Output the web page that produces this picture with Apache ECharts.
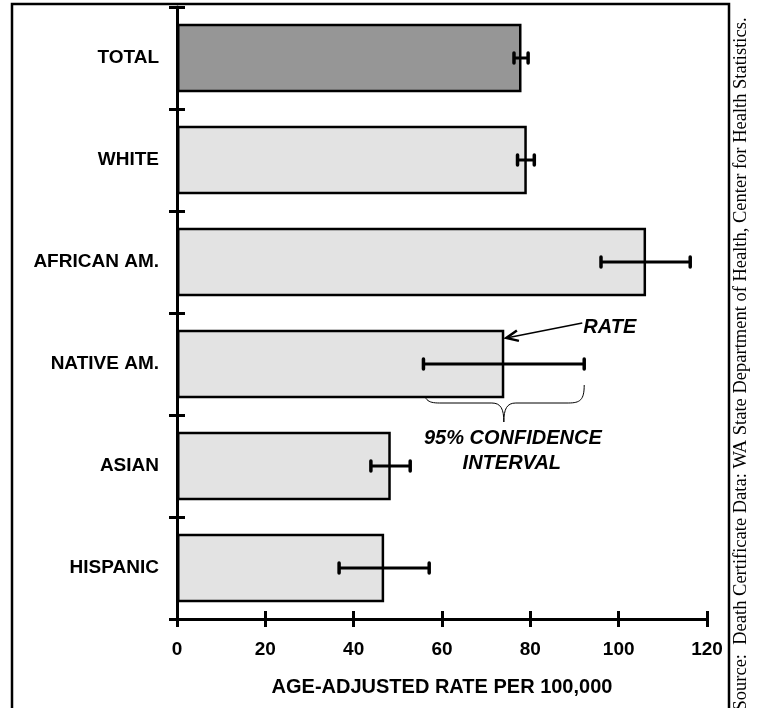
<!DOCTYPE html>
<html><head><meta charset="utf-8">
<script src="https://cdn.jsdelivr.net/npm/echarts@6/dist/echarts.min.js"></script>
<style>html,body{margin:0;padding:0;background:#fff}#c{width:757px;height:708px}</style>
</head><body><div id="c"></div>
<script>
const categories = ['TOTAL', 'WHITE', 'AFRICAN AM.', 'NATIVE AM.', 'ASIAN', 'HISPANIC'];
const rates = [78.0, 79.2, 106.2, 74.1, 48.4, 46.9];
const ciLower = [76.3, 77.1, 96.0, 55.8, 43.9, 36.7];
const ciUpper = [79.5, 80.9, 116.2, 92.2, 52.8, 57.1];
const xTicks = [0, 20, 40, 60, 80, 100, 120];
const xTitle = 'AGE-ADJUSTED RATE PER 100,000';
const sourceText = 'Source:  Death Certificate Data: WA State Department of Health, Center for Health Statistics.';
const annoRate = 'RATE';
const annoCI = ['95% CONFIDENCE', 'INTERVAL'];
const annoIndex = 3;

const SANS = '"Liberation Sans", Arial, sans-serif';
const chart = echarts.init(document.getElementById('c'), null, {renderer: 'canvas'});
const gridBox = {left: 177, right: 50, top: 7, bottom: 89, containLabel: false};

chart.setOption({
  animation: false,
  backgroundColor: '#fff',
  grid: [Object.assign({}, gridBox), Object.assign({}, gridBox)],
  xAxis: [{
    type: 'value', gridIndex: 0, min: xTicks[0], max: xTicks[xTicks.length - 1], interval: 20,
    position: 'bottom',
    name: xTitle, nameLocation: 'middle', nameGap: 58,
    nameTextStyle: {fontFamily: SANS, fontWeight: 'bold', fontSize: 20, color: '#000'},
    axisLine: {show: true, lineStyle: {color: '#000', width: 3}},
    axisTick: {show: true, inside: false, length: 8, lineStyle: {color: '#000', width: 3}},
    axisLabel: {show: true, margin: 21, fontFamily: SANS, fontWeight: 'bold', fontSize: 19, color: '#000'},
    splitLine: {show: false}
  }, {
    type: 'value', gridIndex: 1, min: xTicks[0], max: xTicks[xTicks.length - 1], interval: 20,
    position: 'bottom',
    axisLine: {show: false},
    axisTick: {show: true, inside: true, length: 8, lineStyle: {color: '#000', width: 3}},
    axisLabel: {show: false},
    splitLine: {show: false}
  }],
  yAxis: [{
    type: 'category', gridIndex: 0, data: categories, inverse: true, position: 'left',
    axisLine: {show: true, lineStyle: {color: '#000', width: 3}},
    axisTick: {show: true, inside: false, length: 8, lineStyle: {color: '#000', width: 3}},
    axisLabel: {show: true, margin: 18, fontFamily: SANS, fontWeight: 'bold', fontSize: 19, color: '#000'},
    splitLine: {show: false}
  }, {
    type: 'category', gridIndex: 1, data: categories, inverse: true, position: 'left',
    axisLine: {show: false},
    axisTick: {show: true, inside: true, length: 8, lineStyle: {color: '#000', width: 3}},
    axisLabel: {show: false},
    splitLine: {show: false}
  }],
  series: [{
    type: 'bar', xAxisIndex: 0, yAxisIndex: 0,
    data: rates,
    barCategoryGap: '33%',
    itemStyle: {
      color: function (p) { return p.dataIndex === 0 ? '#969696' : '#e3e3e3'; },
      borderColor: '#000', borderWidth: 2.5
    },
    z: 2
  }, {
    type: 'custom', xAxisIndex: 0, yAxisIndex: 0,
    data: categories.map(function (c, i) { return [ciLower[i], ciUpper[i], i]; }),
    encode: {x: [0, 1], y: 2},
    z: 5,
    renderItem: function (params, api) {
      const lo = api.coord([api.value(0), api.value(2)]);
      const hi = api.coord([api.value(1), api.value(2)]);
      const h = 5;
      const st = {stroke: '#000', lineWidth: 3.5, lineCap: 'round'};
      return {type: 'group', children: [
        {type: 'line', shape: {x1: lo[0], y1: lo[1], x2: hi[0], y2: hi[1]}, style: {stroke: '#000', lineWidth: 3}},
        {type: 'line', shape: {x1: lo[0], y1: lo[1] - h, x2: lo[0], y2: lo[1] + h}, style: st},
        {type: 'line', shape: {x1: hi[0], y1: hi[1] - h, x2: hi[0], y2: hi[1] + h}, style: st}
      ]};
    }
  }]
});

// Annotations positioned from the data through the chart's scales
const barEnd = chart.convertToPixel({gridIndex: 0}, [rates[annoIndex], annoIndex]);
const ciL = chart.convertToPixel({gridIndex: 0}, [ciLower[annoIndex], annoIndex]);
const ciR = chart.convertToPixel({gridIndex: 0}, [ciUpper[annoIndex], annoIndex]);
const cy = barEnd[1];
const bx = barEnd[0];
const L = ciL[0], R = ciR[0], M = (L + R) / 2;
const yTop = cy + 21, yMid = cy + 39, yTip = cy + 58;

const head = [bx + 2, cy - 26];
const tail = [bx + 78, cy - 41];
const ang = Math.atan2(tail[1] - head[1], tail[0] - head[0]);
const al = 13, aw = 0.42;
const p1 = [head[0] + al * Math.cos(ang + aw), head[1] + al * Math.sin(ang + aw)];
const p2 = [head[0] + al * Math.cos(ang - aw), head[1] + al * Math.sin(ang - aw)];

const braceStyle = {stroke: '#000', lineWidth: 1, fill: null};
function bez(x1, y1, c1x, c1y, c2x, c2y, x2, y2) {
  return {type: 'bezierCurve', silent: true,
    shape: {x1: x1, y1: y1, cpx1: c1x, cpy1: c1y, cpx2: c2x, cpy2: c2y, x2: x2, y2: y2},
    style: braceStyle};
}
function seg(x1, y1, x2, y2) {
  return {type: 'line', silent: true, shape: {x1: x1, y1: y1, x2: x2, y2: y2}, style: braceStyle};
}

chart.setOption({
  graphic: [
    {type: 'polyline', silent: true, shape: {points: [[12, 708], [12, 4], [729, 4], [729, 708]]},
      style: {stroke: '#000', lineWidth: 2.5, fill: null}},
    {type: 'text', silent: true, x: 741, y: 364, rotation: Math.PI / 2,
      style: {text: sourceText, font: '18.5px "Liberation Serif", "Times New Roman", serif', fill: '#000',
        align: 'center', verticalAlign: 'middle', textAlign: 'center', textVerticalAlign: 'middle'}},
    {type: 'line', silent: true, shape: {x1: tail[0], y1: tail[1], x2: head[0], y2: head[1]},
      style: {stroke: '#000', lineWidth: 1.5}},
    {type: 'polyline', silent: true, shape: {points: [p1, head, p2]},
      style: {stroke: '#000', lineWidth: 2.5, fill: null}},
    {type: 'text', silent: true, x: tail[0] + 1, y: cy - 37,
      style: {text: annoRate, font: 'italic bold 20px ' + SANS, fill: '#000',
        align: 'left', verticalAlign: 'middle', textAlign: 'left', textVerticalAlign: 'middle'}},
    bez(L, yTop, L, yMid - 3, L + 4, yMid, L + 16, yMid),
    seg(L + 16, yMid, M - 12, yMid),
    bez(M - 12, yMid, M - 3, yMid, M, yMid + 6, M, yTip),
    bez(M, yTip, M, yMid + 6, M + 3, yMid, M + 12, yMid),
    seg(M + 12, yMid, R - 16, yMid),
    bez(R - 16, yMid, R - 4, yMid, R, yMid - 3, R, yTop),
    {type: 'text', silent: true, x: M + 9, y: cy + 74,
      style: {text: annoCI[0], font: 'italic bold 20px ' + SANS, fill: '#000',
        align: 'center', verticalAlign: 'middle', textAlign: 'center', textVerticalAlign: 'middle'}},
    {type: 'text', silent: true, x: M + 8, y: cy + 99,
      style: {text: annoCI[1], font: 'italic bold 20px ' + SANS, fill: '#000',
        align: 'center', verticalAlign: 'middle', textAlign: 'center', textVerticalAlign: 'middle'}}
  ]
});
</script>
</body></html>
